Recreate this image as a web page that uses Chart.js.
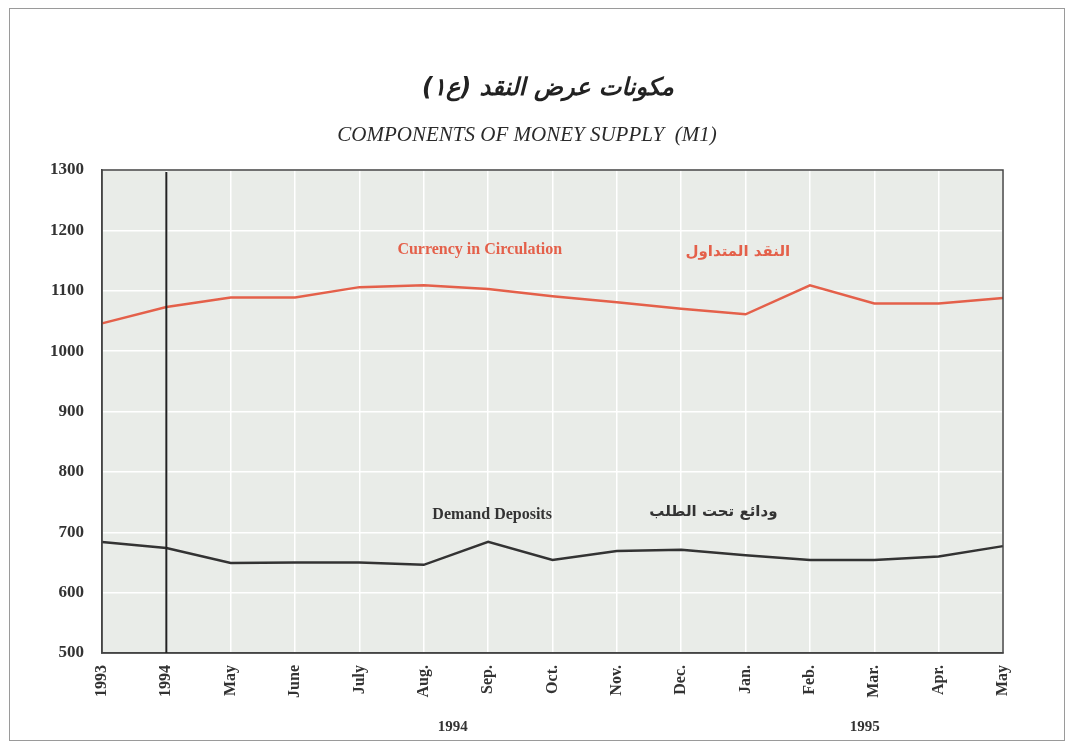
<!DOCTYPE html>
<html>
<head>
<meta charset="utf-8">
<script src="https://cdn.jsdelivr.net/npm/chart.js@4/dist/chart.umd.min.js"></script>
<style>
  html, body { margin: 0; padding: 0; background: #fff; }
  #wrap { width: 1072px; height: 747px; position: relative; }
</style>
</head>
<body>
<div id="wrap"><canvas id="chart" width="1072" height="747"></canvas></div>
<script>
// category labels along the x axis
const months = ["1993", "1994", "May", "June", "July", "Aug.", "Sep.", "Oct.", "Nov.", "Dec.", "Jan.", "Feb.", "Mar.", "Apr.", "May"];
// series values
const currency = [1046, 1073, 1089, 1089, 1106, 1109, 1103, 1091, 1081, 1070, 1061, 1109, 1079, 1079, 1088];
const deposits = [684, 674, 649, 650, 650, 646, 684, 654, 669, 671, 662, 654, 654, 660, 677];
// y ticks
const yMin = 500;
const yMax = 1300;
const yStep = 100;

const titleAr = "مكونات عرض النقد (ع١)";
const titleEn = "COMPONENTS OF MONEY SUPPLY  (M1)";

const RED = "#e4604a";
const DARK = "#333333";
const serif = "'Liberation Serif', 'DejaVu Serif', serif";

/**
 * Pixel between two category ticks
 */
const between = (scale, i, f) => {
  const a = scale.getPixelForValue(i);
  const b = scale.getPixelForValue(i + 1);
  return a + (b - a) * f;
};

/**
 * Plugin: plot background, frame, titles, year marks and in-chart labels
 */
const decor = {
  id: "decor",
  beforeDraw(chart) {
    const { ctx, chartArea: a } = chart;
    ctx.save();
    ctx.fillStyle = "#e9ece8";
    ctx.fillRect(a.left, a.top, a.right - a.left, a.bottom - a.top);
    ctx.restore();
  },
  afterDraw(chart) {
    const { ctx, chartArea: a } = chart;
    const x = chart.scales.x;
    const y = chart.scales.y;
    ctx.save();

    // outer frame
    ctx.strokeStyle = "#9a9a9a";
    ctx.lineWidth = 1;
    ctx.strokeRect(9.5, 8.5, 1055, 732);

    // plot frame
    ctx.strokeStyle = "#444";
    ctx.lineWidth = 1.5;
    ctx.strokeRect(a.left, a.top, a.right - a.left, a.bottom - a.top);

    // the 1994 divider
    ctx.strokeStyle = "#222";
    ctx.lineWidth = 2;
    ctx.beginPath();
    ctx.moveTo(x.getPixelForValue(1), a.top + 2);
    ctx.lineTo(x.getPixelForValue(1), a.bottom);
    ctx.stroke();

    // titles
    ctx.textAlign = "center";
    ctx.textBaseline = "middle";
    ctx.fillStyle = "#222";
    ctx.font = "italic bold 24px 'DejaVu Sans', 'Noto Sans', sans-serif";
    ctx.direction = "rtl";
    ctx.fillText(titleAr, 548, 89);
    ctx.direction = "ltr";
    ctx.font = "italic 21px " + serif;
    ctx.fillStyle = "#2a2a2a";
    ctx.fillText(titleEn, 527, 135);

    // years under the month ticks
    ctx.font = "bold 15px " + serif;
    ctx.fillStyle = "#333";
    ctx.fillText("1994", between(x, 5, 0.45), 727);
    ctx.fillText("1995", between(x, 11, 0.85), 727);

    // series labels
    ctx.font = "bold 16px " + serif;
    ctx.fillStyle = RED;
    ctx.fillText("Currency in Circulation", between(x, 5, 0.87), y.getPixelForValue(1167));
    ctx.font = "bold 15px 'DejaVu Sans', 'Noto Sans', sans-serif";
    ctx.direction = "rtl";
    ctx.fillText("النقد المتداول", between(x, 9, 0.88), y.getPixelForValue(1164));
    ctx.fillStyle = DARK;
    ctx.fillText("ودائع تحت الطلب", between(x, 9, 0.5), y.getPixelForValue(734));
    ctx.direction = "ltr";
    ctx.font = "bold 16px " + serif;
    ctx.fillText("Demand Deposits", x.getPixelForValue(6) + 4, y.getPixelForValue(728));

    ctx.restore();
  },
};

const ctx = document.getElementById("chart").getContext("2d");
new Chart(ctx, {
  type: "line",
  data: {
    labels: months,
    datasets: [
      {
        label: "Currency in Circulation",
        data: currency,
        borderColor: RED,
        borderWidth: 2.5,
        pointRadius: 0,
        tension: 0,
      },
      {
        label: "Demand Deposits",
        data: deposits,
        borderColor: DARK,
        borderWidth: 2.5,
        pointRadius: 0,
        tension: 0,
      },
    ],
  },
  options: {
    responsive: false,
    animation: false,
    layout: { padding: { left: 0, right: 69, top: 170, bottom: 30 } },
    plugins: {
      legend: { display: false },
      tooltip: { enabled: false },
    },
    scales: {
      x: {
        offset: false,
        grid: { color: "#ffffff", lineWidth: 1.5, drawTicks: false },
        border: { display: true, color: "#444", width: 1.5 },
        ticks: {
          autoSkip: false,
          maxRotation: 90,
          minRotation: 90,
          padding: 12,
          color: "#333",
          font: { family: serif, size: 16, weight: "bold" },
        },
        afterFit: (scale) => {
          scale.height = 64;
        },
      },
      y: {
        min: yMin,
        max: yMax,
        grid: { color: "#ffffff", lineWidth: 1.5, drawTicks: false },
        border: { display: true, color: "#444", width: 1.5 },
        ticks: {
          stepSize: yStep,
          padding: 18,
          color: "#333",
          font: { family: serif, size: 17, weight: "bold" },
          callback: (v) => String(v),
        },
        afterFit: (scale) => {
          scale.width = 102;
        },
      },
    },
  },
  plugins: [decor],
});
</script>
</body>
</html>
